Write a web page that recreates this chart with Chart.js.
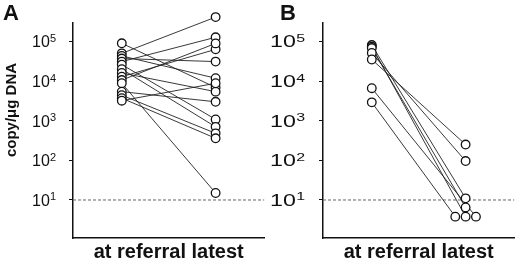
<!DOCTYPE html>
<html>
<head>
  <script src="https://cdn.jsdelivr.net/npm/chart.js"></script>
  <style>
    body { margin: 0; background: #fff; }
    #wrap { position: relative; width: 520px; height: 270px; }
    #wrap canvas { position: absolute; top: 0; }
  </style>
</head>
<body>
  <div id="wrap">
    <canvas id="chartA" width="270" height="270" style="left:0"></canvas>
    <canvas id="chartB" width="258" height="270" style="left:262px"></canvas>
  </div>

  <script>
    // values (copies / ug DNA)
    const referralA = [89600, 50000, 43000, 37000, 31000, 26000, 20000, 16000, 12900, 10600, 8800, 5400, 4400, 3700, 3200]
    const latestA   = [6900, 410000, 11800, 31000, 127000, 1080, 700, 5400, 63000, 89000, 15, 3000, 480, 360, 8800]

    const referralB = [81000, 74000, 68000, 51000, 35000, 6600, 2900]
    const latestB   = [11, 3.8, 6.5, 96, 250, 3.8, 3.8]
    const jitterB   = [0, 0, 0, 0, 0, 0.11, -0.11]   // spread of the stacked points at the bottom

    const decadeTicks   = [10, 100, 1000, 10000, 100000]
    const tickBase      = '10'
    const tickExponents = ['1', '2', '3', '4', '5']
    const threshold     = 10
    const xTitle        = 'at referral latest'
    const yTitle        = 'copy/μg DNA'

    const FONT = '"Liberation Sans", Arial, Helvetica, sans-serif'
    const X_MIN = -0.52, X_MAX = 1.52

    // panel letter, rotated y title and 10^n tick labels (superscripts)
    const panelText = {
      id: 'panelText',
      afterDraw(chart, args, opts) {
        const ctx = chart.ctx
        const yScale = chart.scales.y
        ctx.save()
        ctx.fillStyle = '#111'
        ctx.font = 'bold 22px ' + FONT
        ctx.textBaseline = 'alphabetic'
        ctx.fillText(opts.letter, opts.letterX, 20)

        decadeTicks.forEach((v, i) => {
          const py = yScale.getPixelForValue(v)
          ctx.save()
          ctx.translate(opts.labelX, py)
          ctx.scale(opts.labelStretch, 1)
          ctx.font = '16px ' + FONT
          ctx.fillText(tickBase, 0, 6)
          const w = ctx.measureText(tickBase).width
          ctx.font = '11px ' + FONT
          ctx.fillText(tickExponents[i], w + 0.3, 0.5)
          ctx.restore()
        })

        if (opts.yTitle) {
          ctx.translate(opts.yTitleX, opts.yTitleY)
          ctx.rotate(-Math.PI / 2)
          ctx.font = 'bold 15px ' + FONT
          ctx.textAlign = 'center'
          ctx.textBaseline = 'middle'
          ctx.fillText(opts.yTitle, 0, 0)
        }
        ctx.restore()
      }
    }

    function makePanel(id, referral, latest, jitter, axisWidth, text) {
      const datasets = []

      // open circles on top
      datasets.push({
        data: referral.map(v => ({ x: 0, y: v })).concat(latest.map((v, i) => ({ x: 1 + jitter[i], y: v }))),
        showLine: false,
        pointRadius: 4.3,
        pointBorderWidth: 1.3,
        pointBorderColor: '#111',
        pointBackgroundColor: '#fff',
        clip: false,
        order: 0
      })

      // one line per patient
      referral.forEach((v, i) => {
        datasets.push({
          data: [{ x: 0, y: v }, { x: 1 + jitter[i], y: latest[i] }],
          showLine: true,
          borderColor: '#222',
          borderWidth: 0.9,
          pointRadius: 0,
          clip: false,
          order: 1
        })
      })

      // detection limit
      datasets.push({
        data: [{ x: X_MIN, y: threshold }, { x: X_MAX, y: threshold }],
        showLine: true,
        borderColor: '#666',
        borderWidth: 1,
        borderDash: [3, 2],
        pointRadius: 0,
        order: 2
      })

      return new Chart(document.getElementById(id), {
        type: 'scatter',
        data: { datasets: datasets },
        plugins: [panelText],
        options: {
          responsive: false,
          animation: false,
          layout: { padding: { top: 22.5, right: 2, left: 0, bottom: 0 } },
          plugins: {
            legend: { display: false },
            tooltip: { enabled: false },
            panelText: text
          },
          scales: {
            x: {
              type: 'linear',
              min: X_MIN,
              max: X_MAX,
              ticks: { display: false },
              grid: { display: false, drawTicks: false },
              border: { color: '#111', width: 1.5 },
              title: {
                display: true,
                text: xTitle,
                color: '#111',
                font: { family: FONT, size: 20, weight: 'bold' },
                padding: { top: 2.5, bottom: 5.5 }
              }
            },
            y: {
              type: 'logarithmic',
              min: 1.1,
              max: 300000,
              afterBuildTicks: s => { s.ticks = decadeTicks.map(v => ({ value: v })) },
              afterFit: s => { s.width = axisWidth },
              ticks: { callback: () => '', autoSkip: false },
              grid: { drawOnChartArea: false, drawTicks: true, tickLength: 4, color: '#111', lineWidth: 1 },
              border: { color: '#111', width: 1.5 }
            }
          }
        }
      })
    }

    makePanel('chartA', referralA, latestA, referralA.map(() => 0), 73,
      { letter: 'A', letterX: 3, labelX: 32, labelStretch: 1, yTitle: yTitle, yTitleX: 12, yTitleY: 110 })
    makePanel('chartB', referralB, latestB, jitterB, 61,
      { letter: 'B', letterX: 18, labelX: 8, labelStretch: 1.45 })
  </script>
</body>
</html>
